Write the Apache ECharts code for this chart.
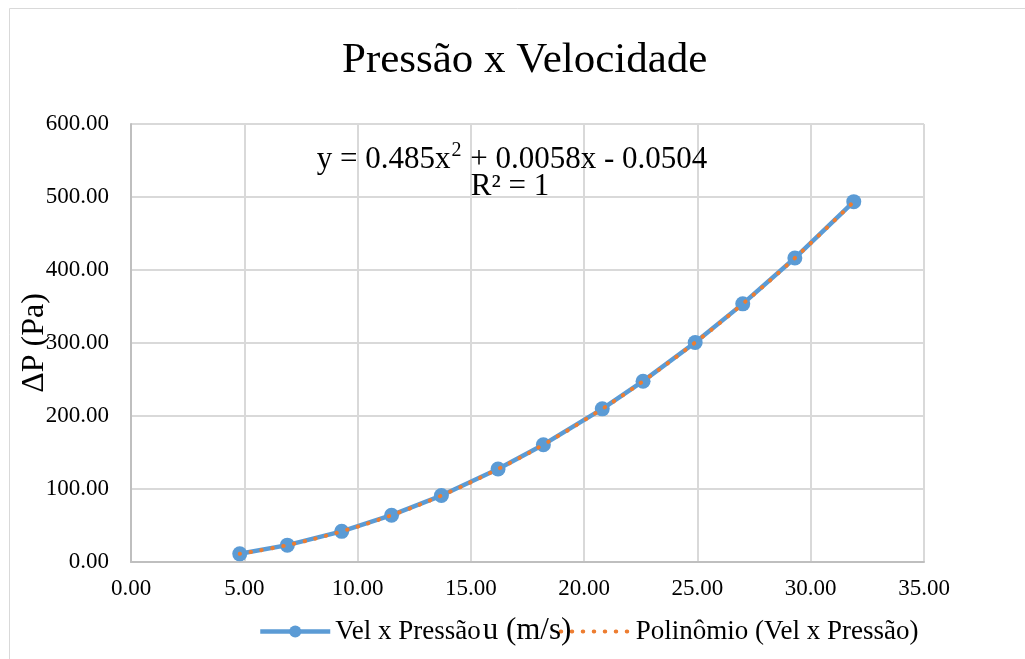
<!DOCTYPE html>
<html>
<head>
<meta charset="utf-8">
<script src="https://cdn.jsdelivr.net/npm/echarts@6/dist/echarts.min.js"></script>
<style>
  html, body { margin: 0; padding: 0; background: #ffffff; }
  #chart { width: 1025px; height: 659px; }
</style>
</head>
<body>
<div id="chart"></div>
<script>
// Velocity (m/s) and pressure drop (Pa) readings
const velocity = [4.8, 6.9, 9.3, 11.5, 13.7, 16.2, 18.2, 20.8, 22.6, 24.9, 27.0, 29.3, 31.9];
const pressure = [11.2, 23.1, 42.0, 64.1, 91.0, 127.4, 160.7, 209.8, 247.7, 300.7, 353.6, 416.4, 493.6];

const titleText = 'Pressão x Velocidade';
const seriesName = 'Vel x Pressão';
const trendName = 'Polinômio (Vel x Pressão)';
// trendline equation, split around the superscript exponent
const equationHead = 'y = 0.485x';
const equationExp = '2';
const equationTail = ' + 0.0058x - 0.0504';
const r2Text = 'R² = 1';
const xAxisName = 'u (m/s)';
const yAxisName = 'ΔP (Pa)';

const serif = "'Liberation Serif', 'Times New Roman', serif";

const points = velocity.map((v, i) => [v, pressure[i]]);

const chart = echarts.init(document.getElementById('chart'), null, { renderer: 'canvas' });

chart.setOption({
  backgroundColor: '#ffffff',
  animation: false,
  title: {
    text: titleText,
    left: 337,
    top: 34,
    textStyle: { fontFamily: serif, fontSize: 43, fontWeight: 'normal', color: '#000000' }
  },
  grid: { left: 131, right: 101, top: 124, bottom: 97, containLabel: false, outerBoundsMode: 'none' },
  xAxis: {
    type: 'value',
    min: 0, max: 35, interval: 5,
    axisLine: { show: true, lineStyle: { color: '#bfbfbf', width: 2 } },
    axisTick: { show: false },
    splitLine: { show: true, lineStyle: { color: '#d9d9d9', width: 2 } },
    axisLabel: {
      formatter: v => v.toFixed(2),
      fontFamily: serif, fontSize: 23, color: '#000000', margin: 15
    }
  },
  yAxis: {
    type: 'value',
    min: 0, max: 600, interval: 100,
    axisLine: { show: true, lineStyle: { color: '#bfbfbf', width: 2 } },
    axisTick: { show: false },
    splitLine: { show: true, lineStyle: { color: '#d9d9d9', width: 2 } },
    axisLabel: {
      formatter: v => v.toFixed(2),
      fontFamily: serif, fontSize: 23, color: '#000000', margin: 22
    },
    name: yAxisName,
    nameLocation: 'middle',
    nameGap: 80,
    nameRotate: 90,
    nameMoveOverlap: false,
    nameTextStyle: { fontFamily: serif, fontSize: 32, color: '#000000' }
  },
  legend: {
    left: 258,
    top: 618,
    padding: 0,
    itemWidth: 70,
    itemHeight: 15,
    itemGap: 78,
    textStyle: { fontFamily: serif, fontSize: 27, color: '#000000' },
    data: [
      {
        name: seriesName,
        lineStyle: { width: 4.5 }
      },
      {
        name: trendName,
        itemStyle: { opacity: 0 },
        lineStyle: { width: 4, type: [0.5, 10.5], cap: 'round' }
      }
    ]
  },
  graphic: [
    {
      type: 'rect',
      silent: true,
      shape: { x: 9.5, y: 8.5, width: 1030, height: 670 },
      style: { fill: 'none', stroke: '#d9d9d9', lineWidth: 1 }
    },
    {
      type: 'text',
      z: 10,
      style: {
        x: 512, y: 158,
        text: '{a|' + equationHead + '}{s|' + equationExp + '}{a|' + equationTail + '}',
        align: 'center', verticalAlign: 'middle',
        rich: {
          a: { fontFamily: serif, fontSize: 31, lineHeight: 34, color: '#000000', verticalAlign: 'bottom' },
          s: { fontFamily: serif, fontSize: 20, lineHeight: 34, color: '#000000', verticalAlign: 'top', padding: [0, 1, 0, 1] }
        }
      }
    },
    {
      type: 'text',
      z: 10,
      style: {
        x: 510, y: 187, text: r2Text, align: 'center', verticalAlign: 'middle',
        font: "31px 'Liberation Serif', 'Times New Roman', serif", fill: '#000000'
      }
    },
    {
      type: 'text',
      z: 20,
      style: {
        x: 527, y: 631, text: xAxisName, align: 'center', verticalAlign: 'middle',
        font: "31px 'Liberation Serif', 'Times New Roman', serif", fill: '#000000'
      }
    }
  ],
  series: [
    {
      name: seriesName,
      type: 'line',
      data: points,
      symbol: 'circle',
      symbolSize: 15,
      showSymbol: true,
      lineStyle: { color: '#5b9bd5', width: 4.5 },
      itemStyle: { color: '#5b9bd5' },
      z: 2
    },
    {
      name: trendName,
      type: 'line',
      data: points,
      smooth: 0.4,
      symbol: 'none',
      lineStyle: { color: '#ed7d31', width: 4, type: [0.5, 10.5], cap: 'round' },
      itemStyle: { color: '#ed7d31' },
      z: 3
    }
  ]
});
</script>
</body>
</html>
